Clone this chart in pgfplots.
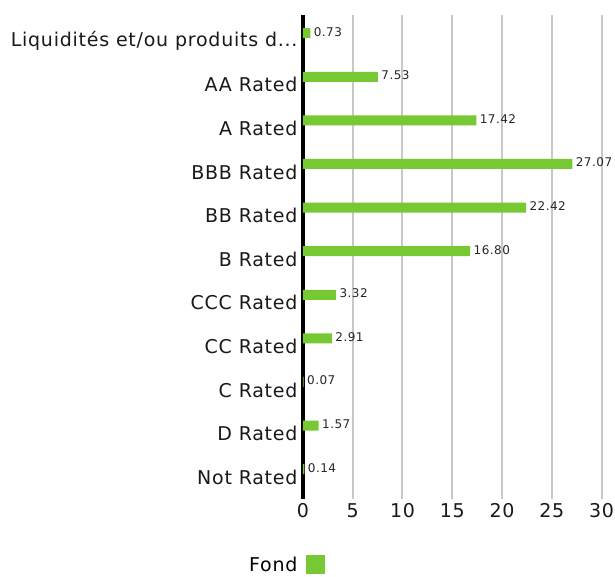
\documentclass[border=0pt]{standalone}
\usepackage{pgfplots}
\pgfplotsset{compat=1.18}
\usepackage{fontspec}
\setmainfont{DejaVu Sans}[LetterSpace=4]
\definecolor{barg}{RGB}{118,201,51}
\definecolor{gridg}{RGB}{200,200,200}
\begin{document}
\begin{tikzpicture}[x=1pt,y=1pt]
\useasboundingbox (-303,-77) rectangle (312,499);
\begin{axis}[
  at={(0,0)}, anchor=south west,
  scale only axis, width=298.5pt, height=484pt,
  xmin=0, xmax=30, ymin=-0.6, ymax=10.5, y dir=reverse,
  xtick={0,5,...,30},
  ytick={0,1,2,3,4,5,6,7,8,9,10},
  yticklabels={{Liquidités et/ou produits d.{}.{}.},AA Rated,A Rated,BBB Rated,BB Rated,B Rated,CCC Rated,CC Rated,C Rated,D Rated,Not Rated},
  xmajorgrids, grid style={line width=2pt, color=gridg},
  extra x ticks={0}, extra x tick labels={},
  extra x tick style={grid style={line width=4pt, color=black}},
  major tick length=0,
  axis line style={draw=none},
  tick label style={font=\fontsize{19}{22}\selectfont, text=black!90},
  yticklabel style={xshift=-2pt},
  xticklabel style={yshift=-1pt},
  /pgf/number format/assume math mode=true,
  legend plot pos=right,
  legend style={draw=none, at={(axis description cs:-0.056,-0.136)}, anchor=center,
    font=\fontsize{19}{22}\selectfont},
]
\addplot[xbar, fill=barg, draw=none, bar width=10pt, bar shift=8pt,
  point meta=explicit symbolic,
  nodes near coords,
  nodes near coords style={font=\fontsize{12}{15}\selectfont, anchor=west, xshift=0pt, yshift=9.5pt, text=black!85},
  legend image code/.code={\path (0pt,0pt); \fill[barg] (7pt,-9.5pt) rectangle (26pt,9.5pt);},
  ] coordinates {
  (0.73,0) [0.73]
  (7.53,1) [7.53]
  (17.42,2) [17.42]
  (27.07,3) [27.07]
  (22.42,4) [22.42]
  (16.80,5) [16.80]
  (3.32,6) [3.32]
  (2.91,7) [2.91]
  (0.07,8) [0.07]
  (1.57,9) [1.57]
  (0.14,10) [0.14]
};
\legend{Fond}
\end{axis}
\end{tikzpicture}
\end{document}
